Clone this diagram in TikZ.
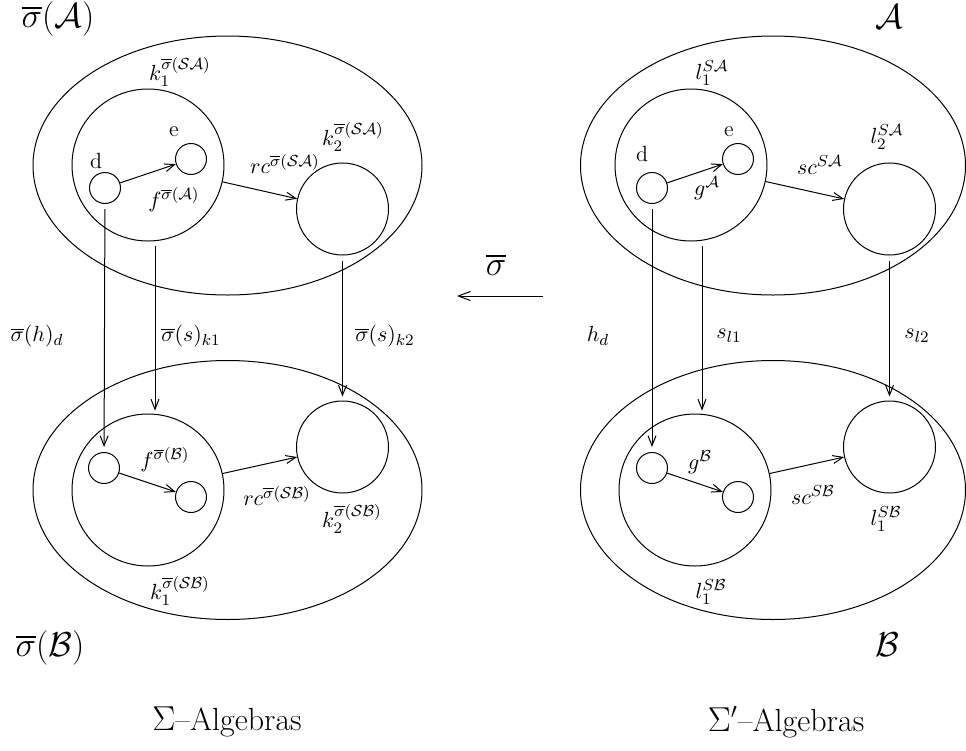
\documentclass[tikz,border=0pt]{standalone}
\usepackage{amsmath}
\usetikzlibrary{arrows.meta,shapes.geometric}
\newcommand{\osg}{\overline{\sigma}}
\begin{document}
\begin{tikzpicture}[x=0.5pt,y=-0.5pt,line width=0.5pt,
  oval/.style={draw,ellipse,minimum width=194.5pt,minimum height=129.5pt,inner sep=0pt},
  ovalr/.style={draw,ellipse,minimum width=192.5pt,minimum height=129.5pt,inner sep=0pt},
  bigc/.style={draw,circle,minimum size=76pt,inner sep=0pt},
  midc/.style={draw,circle,minimum size=46pt,inner sep=0pt},
  smallc/.style={draw,circle,minimum size=15.5pt,inner sep=0pt},
  lab/.style={font=\fontsize{11}{13}\selectfont,inner sep=0pt},
  ttl/.style={font=\fontsize{16}{19}\selectfont,inner sep=0pt},
  arr/.style={-{Straight Barb[length=5pt,width=4pt]}},
  bigarr/.style={-{Straight Barb[length=6pt,width=4.5pt]}}]
\useasboundingbox (0,0) rectangle (966,751);

% ---------- left: Sigma-algebras ----------
\node[oval] (EL1) at (227.5,165.5) {};
\node[bigc] (K1) at (148,165) {};
\node[smallc] (D1) at (105,188) {};
\node[smallc] (F1) at (191,159) {};
\node[midc] (K2) at (342.5,209) {};

\node[oval] (EL2) at (227.5,490) {};
\node[bigc] (K1b) at (148,490) {};
\node[smallc] (D1b) at (104,468) {};
\node[smallc] (F1b) at (191,497) {};
\node[midc] (K2b) at (342.5,447) {};

\draw[arr] (D1) -- (F1);
\draw[arr] (K1) -- (K2);
\draw[arr] (D1b) -- (F1b);
\draw[arr] (K1b) -- (K2b);
\draw[arr,shorten <=2.5pt,shorten >=2.5pt] (D1) -- (D1b);
\draw[arr] ([shift={(7,4)}]K1.south) -- ([shift={(7,-3)}]K1b.north);
\draw[arr] ([shift={(0,5)}]K2.south) -- ([shift={(0,-4)}]K2b.north);

\node[ttl] (tA) at (58,19) {$\osg(\mathcal{A})$};
\node[ttl] (tB) at (50,648) {$\osg(\mathcal{B})$};
\node[ttl] (sL) at (227,722) {$\Sigma$--Algebras};

\node[lab] (lk1) at (180,72) {$k_1^{\osg(\mathcal{S}\mathcal{A})}$};
\node[lab] (ld1) at (96,161) {d};
\node[lab] (le1) at (174,132) {e};
\node[lab] (lf1) at (174,200) {$f^{\osg(\mathcal{A})}$};
\node[lab] (lrc1) at (285,164) {$rc^{\osg(\mathcal{S}\mathcal{A})}$};
\node[lab] (lk2) at (353,137) {$k_2^{\osg(\mathcal{S}\mathcal{A})}$};
\node[lab] (lhd) at (37,336) {$\osg(h)_d$};
\node[lab] (lsk1) at (191,336) {$\osg(s)_{k1}$};
\node[lab] (lsk2) at (385,336) {$\osg(s)_{k2}$};
\node[lab] (lf2) at (165,460) {$f^{\osg(\mathcal{B})}$};
\node[lab] (lrc2) at (277,496) {$rc^{\osg(\mathcal{S}\mathcal{B})}$};
\node[lab] (lk2b) at (352,519) {$k_2^{\osg(\mathcal{S}\mathcal{B})}$};
\node[lab] (lk1b) at (180,591) {$k_1^{\osg(\mathcal{S}\mathcal{B})}$};

% ---------- middle ----------
\coordinate (mR) at (543,296);
\coordinate (mL) at (457,296);
\draw[bigarr] (mR) -- (mL);
\node[ttl] (lsig) at (496,265) {$\osg$};

% ---------- right: Sigma'-algebras ----------
\node[ovalr] (ER1) at (773,165.5) {};
\node[bigc] (L1) at (691,165) {};
\node[smallc] (D3) at (652,188) {};
\node[smallc] (F3) at (738,159) {};
\node[midc] (L2) at (889.5,209) {};

\node[ovalr] (ER2) at (773,490) {};
\node[bigc] (L1b) at (695,490) {};
\node[smallc] (D3b) at (652,468) {};
\node[smallc] (F3b) at (738,497) {};
\node[midc] (L2b) at (889.5,447) {};

\draw[arr] (D3) -- (F3);
\draw[arr] (L1) -- (L2);
\draw[arr] (D3b) -- (F3b);
\draw[arr] (L1b) -- (L2b);
\draw[arr,shorten <=2.5pt,shorten >=2.5pt] (D3) -- (D3b);
\draw[arr] ([shift={(11,4)}]L1.south) -- ([shift={(7,-3)}]L1b.north);
\draw[arr] ([shift={(0,5)}]L2.south) -- ([shift={(0,-4)}]L2b.north);

\node[ttl] (tA2) at (889,17) {$\mathcal{A}$};
\node[ttl] (tB2) at (887,645) {$\mathcal{B}$};
\node[ttl] (sR) at (786,722) {$\Sigma'$--Algebras};

\node[lab] (ll1) at (712,73) {$l_1^{S\mathcal{A}}$};
\node[lab] (ld3) at (642,154) {d};
\node[lab] (le3) at (729,132) {e};
\node[lab] (lg1) at (707,188) {$g^{\mathcal{A}}$};
\node[lab] (lsc1) at (820,165) {$sc^{S\mathcal{A}}$};
\node[lab] (ll2) at (887,137) {$l_2^{S\mathcal{A}}$};
\node[lab] (lhd2) at (598,336) {$h_d$};
\node[lab] (lsl1) at (729,336) {$s_{l1}$};
\node[lab] (lsl2) at (917,336) {$s_{l2}$};
\node[lab] (lg2) at (700,462) {$g^{\mathcal{B}}$};
\node[lab] (lsc2) at (813,495) {$sc^{S\mathcal{B}}$};
\node[lab] (ll2b) at (886,519) {$l_1^{S\mathcal{B}}$};
\node[lab] (ll1b) at (711,592) {$l_1^{S\mathcal{B}}$};
\end{tikzpicture}
\end{document}
